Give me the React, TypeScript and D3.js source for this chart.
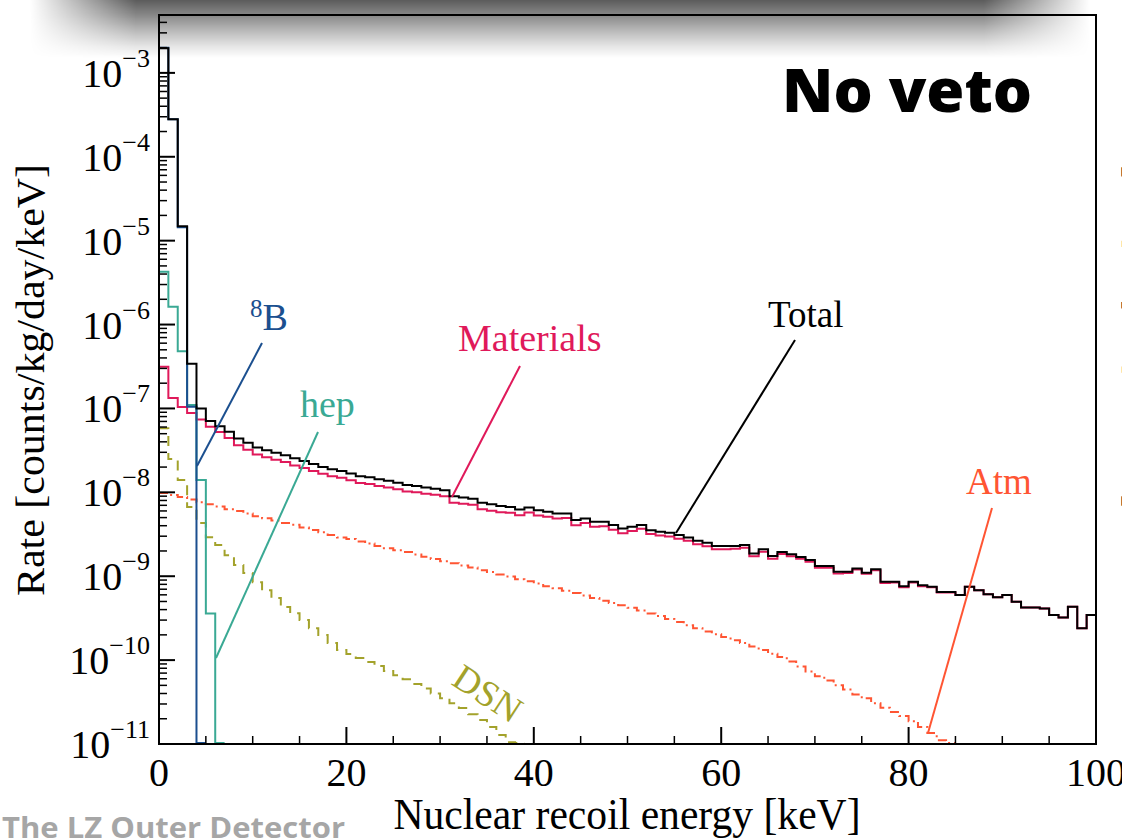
import React from 'react';
import * as d3 from 'd3';

// Nuclear-recoil background spectra, 1 keV bins starting at 0 keV (counts/kg/day/keV)
const total = [
  1.97e-3, 2.8e-4, 1.49e-5, 3.4e-7, 1.0e-7, 7.1e-8, 6.15e-8, 5.26e-8, 4.39e-8, 3.89e-8,
  3.43e-8, 3.18e-8, 2.96e-8, 2.77e-8, 2.54e-8, 2.36e-8, 2.17e-8, 2.01e-8, 1.89e-8, 1.79e-8,
  1.68e-8, 1.56e-8, 1.51e-8, 1.43e-8, 1.37e-8, 1.3e-8, 1.22e-8, 1.19e-8, 1.14e-8, 1.1e-8,
  1.06e-8, 9.0e-9, 8.7e-9, 8.4e-9, 7.5e-9, 7.2e-9, 6.85e-9, 6.7e-9, 6.25e-9, 6.6e-9,
  6.1e-9, 5.86e-9, 5.6e-9, 5.6e-9, 4.67e-9, 4.89e-9, 4.45e-9, 4.45e-9, 4.07e-9, 3.71e-9,
  3.88e-9, 4.07e-9, 3.54e-9, 3.38e-9, 3.29e-9, 3.09e-9, 2.9e-9, 2.64e-9, 2.5e-9, 2.29e-9,
  2.29e-9, 2.29e-9, 2.35e-9, 1.87e-9, 2.09e-9, 1.74e-9, 1.95e-9, 1.83e-9, 1.7e-9, 1.56e-9,
  1.32e-9, 1.32e-9, 1.13e-9, 1.13e-9, 1.24e-9, 1.1e-9, 1.21e-9, 8.6e-10, 8.6e-10, 7.6e-10,
  8.6e-10, 7.8e-10, 7.5e-10, 6.5e-10, 6.5e-10, 5.96e-10, 7.5e-10, 6.8e-10, 6.1e-10, 5.6e-10,
  5.96e-10, 4.95e-10, 4.25e-10, 4.25e-10, 4.13e-10, 3.44e-10, 3.23e-10, 4.32e-10, 2.39e-10, 3.44e-10,
];

const materials = [
  3.13e-7, 1.33e-7, 1.04e-7, 8.8e-8, 7.4e-8, 6.05e-8, 5.24e-8, 4.45e-8, 3.65e-8, 3.22e-8,
  2.82e-8, 2.62e-8, 2.44e-8, 2.3e-8, 2.09e-8, 1.95e-8, 1.79e-8, 1.66e-8, 1.56e-8, 1.49e-8,
  1.39e-8, 1.29e-8, 1.26e-8, 1.19e-8, 1.145e-8, 1.09e-8, 1.02e-8, 1.0e-8, 9.6e-9, 9.35e-9,
  9.0e-9, 7.5e-9, 7.3e-9, 7.1e-9, 6.3e-9, 6.05e-9, 5.8e-9, 5.7e-9, 5.33e-9, 5.73e-9,
  5.28e-9, 5.1e-9, 4.88e-9, 4.93e-9, 4.04e-9, 4.3e-9, 3.9e-9, 3.94e-9, 3.59e-9, 3.26e-9,
  3.46e-9, 3.68e-9, 3.18e-9, 3.05e-9, 2.98e-9, 2.8e-9, 2.64e-9, 2.4e-9, 2.28e-9, 2.09e-9,
  2.1e-9, 2.12e-9, 2.19e-9, 1.73e-9, 1.96e-9, 1.62e-9, 1.84e-9, 1.73e-9, 1.62e-9, 1.49e-9,
  1.26e-9, 1.26e-9, 1.08e-9, 1.09e-9, 1.2e-9, 1.07e-9, 1.18e-9, 8.3e-10, 8.4e-10, 7.4e-10,
  8.4e-10, 7.6e-10, 7.4e-10, 6.4e-10, 6.4e-10, 5.96e-10, 7.5e-10, 6.8e-10, 6.1e-10, 5.6e-10,
  5.96e-10, 4.95e-10, 4.25e-10, 4.25e-10, 4.13e-10, 3.44e-10, 3.23e-10, 4.32e-10, 2.39e-10, 3.44e-10,
];

const atm = [
  9.8e-9, 9.3e-9, 8.8e-9, 8.2e-9, 7.6e-9, 7.2e-9, 6.8e-9, 6.3e-9, 6.0e-9, 5.6e-9,
  5.2e-9, 4.9e-9, 4.6e-9, 4.3e-9, 4.1e-9, 3.8e-9, 3.55e-9, 3.35e-9, 3.1e-9, 2.9e-9,
  2.77e-9, 2.6e-9, 2.45e-9, 2.3e-9, 2.16e-9, 2.04e-9, 1.94e-9, 1.81e-9, 1.71e-9, 1.6e-9,
  1.51e-9, 1.43e-9, 1.34e-9, 1.27e-9, 1.18e-9, 1.12e-9, 1.05e-9, 9.9e-10, 9.2e-10, 8.7e-10,
  8.2e-10, 7.6e-10, 7.2e-10, 6.7e-10, 6.3e-10, 5.9e-10, 5.5e-10, 5.1e-10, 4.8e-10, 4.5e-10,
  4.2e-10, 3.9e-10, 3.6e-10, 3.35e-10, 3.1e-10, 2.85e-10, 2.6e-10, 2.4e-10, 2.2e-10, 2.04e-10,
  1.88e-10, 1.73e-10, 1.6e-10, 1.45e-10, 1.32e-10, 1.19e-10, 1.09e-10, 9.6e-11, 8.4e-11, 7.3e-11,
  6.4e-11, 5.7e-11, 5.0e-11, 4.45e-11, 3.9e-11, 3.5e-11, 3.07e-11, 2.7e-11, 2.4e-11, 2.15e-11,
  1.87e-11, 1.6e-11, 1.35e-11, 1.11e-11, 8.9e-12,
];

const dsn = [
  5.8e-8, 2.49e-8, 1.4e-8, 6.7e-9, 4.3e-9, 2.92e-9, 2.35e-9, 1.78e-9, 1.36e-9, 1.09e-9,
  8.5e-10, 6.8e-10, 5.5e-10, 4.3e-10, 3.63e-10, 3.0e-10, 2.4e-10, 1.99e-10, 1.6e-10, 1.32e-10,
  1.18e-10, 1.06e-10, 9.5e-11, 8.5e-11, 7.4e-11, 6.6e-11, 5.9e-11, 5.2e-11, 4.6e-11, 4.0e-11,
  3.5e-11, 3.07e-11, 2.68e-11, 2.27e-11, 1.93e-11, 1.59e-11, 1.28e-11, 1.05e-11, 0,
];

const hep = [4.25e-6, 1.63e-6, 4.8e-7, 1.1e-7, 1.4e-8, 3.6e-10, 0];
const boron8 = [1.99e-3, 2.8e-4, 1.45e-5, 1.05e-7, 0];

const X_TICKS = [0, 20, 40, 60, 80, 100];
const Y_EXPONENTS = [-11, -10, -9, -8, -7, -6, -5, -4, -3];

const C_TOTAL = '#000000';
const C_MAT = '#e0195a';
const C_ATM = '#ff5533';
const C_DSN = '#a3a22b';
const C_HEP = '#3aa994';
const C_B8 = '#1b4f8f';

const SERIF = "'Liberation Serif', 'Times New Roman', Times, serif";
const SANS = "'Open Sans', 'Noto Sans', 'DejaVu Sans', sans-serif";

const SVG_WIDTH = 1122;
const SVG_HEIGHT = 840;
const PLOT_LEFT = 159;
const PLOT_RIGHT = 1096;
const PLOT_TOP = 15;
const PLOT_BOTTOM = 744;
const Y_MIN = 1e-11;
const Y_MAX = Math.pow(10, -2.31);

const xScale = d3.scaleLinear().domain([0, 100]).range([PLOT_LEFT, PLOT_RIGHT]);
const yScale = d3.scaleLog().domain([Y_MIN, Y_MAX]).range([PLOT_BOTTOM, PLOT_TOP]);

function yOf(v: number) {
  return v > Y_MIN ? yScale(v) : PLOT_BOTTOM - 1;
}

// ROOT-style step outline of a 1 keV histogram
function stepPath(vals: number[]) {
  let d = '';
  vals.forEach((v, i) => {
    const yy = yOf(v);
    d += i === 0 ? `M${xScale(0)},${yy}` : `V${yy}`;
    d += `H${xScale(i + 1)}`;
  });
  return d;
}

function Leader(props: { x1: number; y1: number; x2: number; y2: number; color: string }) {
  return (
    <line x1={props.x1} y1={props.y1} x2={props.x2} y2={props.y2} stroke={props.color} strokeWidth={2} />
  );
}

export default function App() {
  const minorY: number[] = [];
  Y_EXPONENTS.forEach((e) => {
    for (let m = 2; m <= 9; m++) {
      const v = m * Math.pow(10, e);
      if (v < Y_MAX) minorY.push(v);
    }
  });
  const minorX = d3.range(0, 101, 5).filter((v) => v % 20 !== 0);

  return (
    <svg
      width={SVG_WIDTH}
      height={SVG_HEIGHT}
      viewBox={`0 0 ${SVG_WIDTH} ${SVG_HEIGHT}`}
      style={{ position: 'fixed', left: 0, top: 0, display: 'block', background: '#fff' }}
    >
      <defs>
        <linearGradient id="shadeV" x1="0" y1="0" x2="0" y2="1">
          <stop offset="0" stopColor="#000" stopOpacity={0.64} />
          <stop offset="0.27" stopColor="#000" stopOpacity={0.46} />
          <stop offset="0.55" stopColor="#000" stopOpacity={0.26} />
          <stop offset="0.8" stopColor="#000" stopOpacity={0.1} />
          <stop offset="1" stopColor="#000" stopOpacity={0} />
        </linearGradient>
        <linearGradient id="shadeH" x1="0" y1="0" x2="1" y2="0">
          <stop offset="0" stopColor="#fff" stopOpacity={0} />
          <stop offset="0.1" stopColor="#fff" stopOpacity={1} />
          <stop offset="0.9" stopColor="#fff" stopOpacity={1} />
          <stop offset="1" stopColor="#fff" stopOpacity={0} />
        </linearGradient>
        <mask id="shadeMask" maskUnits="userSpaceOnUse" x={0} y={0} width={SVG_WIDTH} height={80}>
          <rect x={30} y={0} width={1060} height={58} fill="url(#shadeH)" />
        </mask>
        <clipPath id="plotClip">
          <rect x={PLOT_LEFT} y={PLOT_TOP} width={PLOT_RIGHT - PLOT_LEFT} height={PLOT_BOTTOM - PLOT_TOP} />
        </clipPath>
      </defs>

      <rect x={0} y={0} width={SVG_WIDTH} height={SVG_HEIGHT} fill="#fff" />

      {/* histograms */}
      <g clipPath="url(#plotClip)" fill="none" strokeWidth={2}>
        <path d={stepPath(dsn)} stroke={C_DSN} strokeDasharray="10,7" />
        <path d={stepPath(atm)} stroke={C_ATM} strokeDasharray="9,4,2,4" />
        <path d={stepPath(materials)} stroke={C_MAT} />
        <path d={stepPath(hep)} stroke={C_HEP} />
        <path d={stepPath(boron8)} stroke={C_B8} />
        <path d={stepPath(total)} stroke={C_TOTAL} />
      </g>

      {/* annotation leaders and labels */}
      <Leader x1={197} y1={466} x2={262} y2={343} color={C_B8} />
      <text x={250} y={330} fill={C_B8} fontFamily={SERIF} fontSize={38}>
        <tspan fontSize={25} dy={-13}>8</tspan>
        <tspan dy={13}>B</tspan>
      </text>

      <Leader x1={216} y1={658} x2={318} y2={432} color={C_HEP} />
      <text x={300} y={417} fill={C_HEP} fontFamily={SERIF} fontSize={38}>hep</text>

      <Leader x1={452} y1={497} x2={520} y2={366} color={C_MAT} />
      <text x={458} y={351} fill={C_MAT} fontFamily={SERIF} fontSize={38}>Materials</text>

      <Leader x1={676} y1={533} x2={795} y2={340} color={C_TOTAL} />
      <text x={768} y={327} fill={C_TOTAL} fontFamily={SERIF} fontSize={37}>Total</text>

      <Leader x1={928} y1={733} x2={992} y2={508} color={C_ATM} />
      <text x={966} y={494} fill={C_ATM} fontFamily={SERIF} fontSize={37}>Atm</text>

      <text
        x={0}
        y={0}
        transform="translate(481,704) rotate(33)"
        textAnchor="middle"
        fill={C_DSN}
        fontFamily={SERIF}
        fontSize={37}
      >
        DSN
      </text>

      {/* frame */}
      <rect
        x={PLOT_LEFT}
        y={PLOT_TOP}
        width={PLOT_RIGHT - PLOT_LEFT}
        height={PLOT_BOTTOM - PLOT_TOP}
        fill="none"
        stroke="#000"
        strokeWidth={2}
      />

      {/* axis ticks */}
      <g stroke="#000" strokeWidth={2}>
        {Y_EXPONENTS.map((e) => (
          <line
            key={'ym' + e}
            x1={PLOT_LEFT}
            x2={PLOT_LEFT + 16}
            y1={yScale(Math.pow(10, e))}
            y2={yScale(Math.pow(10, e))}
          />
        ))}
        {minorY.map((v, i) => (
          <line key={'yn' + i} x1={PLOT_LEFT} x2={PLOT_LEFT + 8} y1={yScale(v)} y2={yScale(v)} strokeWidth={1.5} />
        ))}
        {X_TICKS.map((t) => (
          <line key={'xm' + t} x1={xScale(t)} x2={xScale(t)} y1={PLOT_BOTTOM} y2={PLOT_BOTTOM - 17} />
        ))}
        {minorX.map((t) => (
          <line key={'xn' + t} x1={xScale(t)} x2={xScale(t)} y1={PLOT_BOTTOM} y2={PLOT_BOTTOM - 8} strokeWidth={1.5} />
        ))}
      </g>

      <g fontFamily={SERIF} fill="#000">
        {Y_EXPONENTS.map((e) => (
          <text key={'yl' + e} x={150} y={yScale(Math.pow(10, e)) + 14} textAnchor="end" fontSize={40}>
            <tspan>10</tspan>
            <tspan fontSize={26} dy={-20}>{'\u2212' + Math.abs(e)}</tspan>
          </text>
        ))}
        {X_TICKS.map((t) => (
          <text key={'xl' + t} x={xScale(t)} y={786} textAnchor="middle" fontSize={40}>
            {t}
          </text>
        ))}
        <text x={627} y={829} textAnchor="middle" fontSize={44} textLength={467} lengthAdjust="spacingAndGlyphs">
          Nuclear recoil energy [keV]
        </text>
        <text
          transform="translate(44,380) rotate(-90)"
          textAnchor="middle"
          fontSize={40}
          textLength={432}
          lengthAdjust="spacingAndGlyphs"
        >
          Rate [counts/kg/day/keV]
        </text>
        <text
          transform="translate(1150,380) rotate(-90)"
          textAnchor="middle"
          fontSize={40}
          textLength={432}
          lengthAdjust="spacingAndGlyphs"
        >
          Rate [counts/kg/day/keV]
        </text>
      </g>

      {/* panel title */}
      <text
        x={782}
        y={112}
        fontFamily={SANS}
        fontWeight={800}
        fontSize={60}
        textLength={250}
        lengthAdjust="spacingAndGlyphs"
        fill="#000"
      >
        No veto
      </text>

      {/* shadow cast by the header above */}
      <rect x={30} y={0} width={1060} height={58} fill="url(#shadeV)" mask="url(#shadeMask)" />

      {/* footer */}
      <text
        x={2}
        y={838}
        fontFamily={SANS}
        fontWeight={700}
        fontSize={28}
        fill="#a6a6a6"
        textLength={343}
        lengthAdjust="spacingAndGlyphs"
      >
        The LZ Outer Detector
      </text>
    </svg>
  );
}
